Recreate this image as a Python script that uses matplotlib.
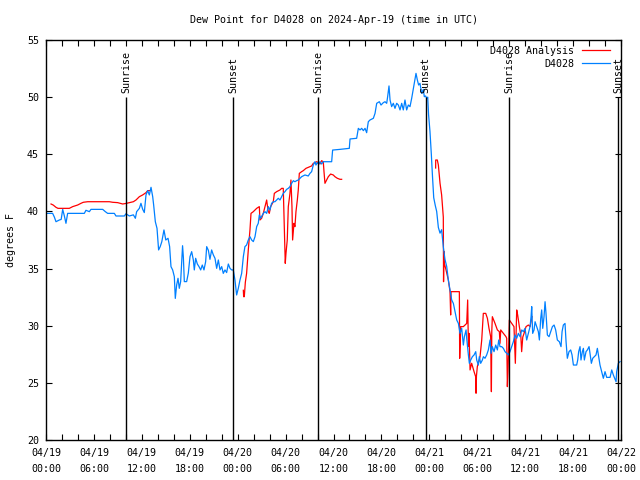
import numpy as np
import pandas as pd
import matplotlib
matplotlib.use("Agg")
import matplotlib.pyplot as plt
import matplotlib.dates as mdates

# hours since 2024-04-19 00:00 UTC and dew point (F)
obs_hours = [0.0, 0.83, 1.05, 1.25, 1.67, 1.9, 2.09, 2.3, 2.5, 2.71, 4.8, 5.0, 5.43, 5.63, 6.05, 7.1, 7.43, 7.72,
             8.56, 8.76, 9.81, 10.02, 10.43, 10.94, 11.19, 11.35, 11.69, 11.89, 12.1, 12.31, 12.52, 12.73, 12.94,
             13.15, 13.36, 13.48, 13.69, 13.9, 14.1, 14.3, 14.5, 14.77, 15.0, 15.28, 15.48, 15.65, 15.86, 16.07,
             16.19, 16.36, 16.53, 16.69, 16.86, 17.03, 17.1, 17.2, 17.32, 17.61, 17.82, 18.03, 18.24, 18.45, 18.57,
             18.74, 18.95, 19.16, 19.37, 19.57, 19.78, 19.99, 20.12, 20.33, 20.53, 20.74, 20.95, 21.16, 21.37,
             21.58, 21.79, 22.0, 22.2, 22.41, 22.62, 22.83, 23.04, 23.25, 23.45, 23.66, 23.87, 24.08, 24.29, 24.5,
             24.71, 24.91, 25.12, 25.33, 25.54, 25.75, 25.96, 26.17, 26.38, 26.58, 26.71, 26.88, 27.04, 27.21,
             27.42, 27.63, 27.84, 28.04, 28.25, 28.46, 28.67, 28.88, 29.09, 29.3, 29.51, 29.71, 29.92, 30.13,
             30.34, 30.55, 30.76, 30.97, 31.17, 31.38, 31.59, 31.8, 32.01, 32.43, 32.84, 33.05, 33.26, 33.47,
             33.68, 33.8, 33.97, 34.14, 34.31, 34.51, 34.72, 35.77, 35.89, 36.81, 37.98, 38.07, 38.9, 39.11,
             39.32, 39.53, 39.74, 39.95, 40.15, 40.36, 40.57, 40.99, 41.2, 41.41, 41.74, 41.95, 42.24, 42.45,
             42.66, 42.78, 42.95, 43.08, 43.28, 43.49, 43.7, 43.91, 44.12, 44.33, 44.54, 44.74, 44.95, 45.16,
             45.37, 45.58, 45.79, 46.0, 46.2, 46.33, 46.5, 46.66, 46.83, 47.04, 47.25, 47.37, 47.54, 47.67, 47.8,
             47.9, 48.08, 48.25, 48.4, 48.55, 48.75, 48.92, 49.13, 49.34, 49.54, 49.75, 49.96, 50.17, 50.38,
             50.59, 50.8, 51.01, 51.22, 51.43, 51.64, 51.84, 52.05, 52.26, 52.39, 52.6, 52.68, 52.89, 53.01,
             53.18, 53.39, 53.6, 53.81, 53.93, 54.14, 54.26, 54.43, 54.64, 54.77, 54.97, 55.18, 55.39, 55.6,
             55.73, 55.89, 56.1, 56.31, 56.52, 56.69, 56.85, 57.06, 57.27, 57.48, 57.69, 57.9, 58.1, 58.31,
             58.52, 58.73, 58.94, 59.15, 59.36, 59.57, 59.77, 59.98, 60.19, 60.4, 60.61, 60.74, 60.82, 60.94,
             61.11, 61.24, 61.44, 61.65, 61.78, 61.95, 62.07, 62.2, 62.36, 62.49, 62.61, 62.78, 62.99, 63.2,
             63.41, 63.62, 63.82, 64.03, 64.28, 64.49, 64.62, 64.78, 64.99, 65.12, 65.28, 65.49, 65.7, 65.87,
             66.04, 66.45, 66.58, 66.7, 66.87, 66.99, 67.16, 67.29, 67.41, 67.62, 67.79, 68.0, 68.12, 68.29,
             68.46, 68.66, 68.87, 69.04, 69.21, 69.37, 69.58, 69.79, 70.0, 70.21, 70.63, 70.84, 71.04, 71.25,
             71.38, 71.46, 71.67, 71.88]
obs_dewpt = [39.83, 39.83, 39.5, 39.1, 39.25, 39.3, 40.18, 39.6, 38.96, 39.83, 39.83, 40.1, 39.98, 40.18, 40.18,
             40.18, 39.98, 39.83, 39.83, 39.6, 39.6, 39.8, 39.6, 39.7, 39.4, 39.98, 40.27, 40.71, 40.2, 39.9,
             41.44, 41.82, 41.44, 42.11, 41.29, 40.56, 39.1, 38.52, 36.63, 36.92, 37.35, 38.38, 37.5, 37.65,
             36.92, 35.17, 34.88, 34.29, 32.39, 33.56, 34.15, 33.27, 33.86, 36.19, 37.0, 36.0, 33.86, 33.86, 34.6,
             36.04, 36.48, 35.75, 34.88, 35.9, 35.4, 35.17, 34.88, 35.31, 34.88, 35.6, 36.92, 36.6, 35.81, 36.63,
             36.2, 35.9, 35.02, 35.75, 34.88, 35.17, 34.58, 34.88, 34.65, 35.4, 35.02, 34.88, 34.88, 34.0, 32.69,
             33.27, 34.0, 34.58, 36.04, 36.92, 37.06, 37.5, 37.79, 37.5, 37.36, 37.79, 38.67, 38.96, 39.69, 39.4,
             39.6, 39.83, 39.98, 39.83, 40.42, 40.13, 40.71, 40.85, 40.85, 41.0, 41.15, 41.0, 41.29, 41.58, 41.73,
             41.93, 42.02, 42.17, 42.46, 42.69, 42.6, 42.69, 42.75, 42.9, 43.04, 43.19, 43.1, 43.33, 43.48, 44.06,
             44.35, 44.06, 44.27, 44.15, 44.35, 44.15, 44.35, 44.35, 45.37, 45.43, 45.52, 46.34, 46.4, 47.27,
             47.13, 47.27, 47.07, 47.27, 46.89, 47.85, 48.0, 48.15, 48.58, 49.46, 49.6, 49.31, 49.52, 49.6, 49.46,
             50.04, 50.98, 49.75, 49.17, 49.46, 49.02, 49.46, 49.31, 48.88, 49.46, 48.88, 49.75, 48.88, 49.31,
             49.17, 49.9, 50.77, 51.65, 52.08, 51.5, 51.06, 51.21, 50.33, 50.68, 50.04, 50.1, 49.9, 50.0, 48.5,
             47.0, 45.0, 43.0, 41.2, 40.5, 40.0, 38.6, 38.1, 38.4, 36.9, 35.8, 35.2, 34.0, 33.1, 32.25, 31.95,
             31.23, 30.5, 30.2, 29.33, 29.77, 28.31, 29.04, 29.63, 28.9, 27.44, 26.71, 27.0, 27.29, 27.44, 27.73,
             27.0, 26.56, 27.29, 26.71, 27.0, 27.29, 27.15, 27.44, 27.88, 28.75, 27.58, 28.17, 27.73, 28.31,
             27.88, 28.75, 28.17, 28.17, 28.02, 27.73, 27.58, 27.44, 27.73, 28.17, 28.6, 29.19, 28.9, 29.33,
             29.04, 29.63, 29.48, 29.77, 28.75, 29.33, 29.92, 30.8, 31.67, 29.33, 29.63, 30.35, 29.92, 29.48,
             28.75, 30.65, 31.38, 29.77, 30.79, 32.1, 31.08, 29.19, 29.04, 29.48, 29.92, 30.06, 29.63, 28.75,
             28.6, 28.17, 29.48, 30.06, 30.2, 28.6, 27.15, 27.73, 27.88, 27.44, 26.56, 26.56, 27.0, 27.73, 28.17,
             27.0, 27.73, 28.02, 27.0, 27.73, 27.88, 28.17, 27.58, 26.71, 27.15, 27.29, 27.44, 28.02, 27.29,
             26.56, 25.98, 25.4, 25.98, 25.48, 25.48, 26.13, 25.69, 25.31, 25.1, 25.98, 26.71, 26.86]

# analysis series (NaN = gap in the record)
ana_hours = [0.63, 0.9, 1.25, 1.5, 2.92, 3.34, 3.96, 4.38, 4.67, 5.22, 7.93, 8.35, 8.97, 9.6, 10.02, 10.43, 10.94,
             11.27, 11.69, 12.1, 12.52, 12.73, 13.02, 18.0,
             24.71, 24.75, 24.83, 24.96, 25.12, 25.33, 25.54, 25.67, 25.96, 26.38, 26.71, 26.79, 27.0, 27.21,
             27.42, 27.63, 27.71, 27.84, 27.96, 28.13, 28.46, 28.59, 28.88, 29.3, 29.51, 29.71, 29.84, 29.96,
             30.05, 30.21, 30.34, 30.55, 30.67, 30.8, 30.88, 31.05, 31.17, 31.3, 31.47, 31.59, 31.72, 32.01,
             32.22, 32.55, 32.84, 33.26, 33.47, 33.68, 33.89, 34.1, 34.31, 34.51, 34.72, 34.81, 34.93, 35.14,
             35.35, 35.64, 35.97, 36.18, 36.48, 36.81, 37.02, 42.0,
             48.79, 48.8, 49.0, 49.13, 49.34, 49.54, 49.75, 49.78, 49.83, 49.88, 50.09, 50.38, 50.59, 50.67,
             50.72, 51.76, 51.8, 51.93, 52.26, 52.68, 52.8, 52.89, 52.97, 53.1, 53.3, 53.6, 53.8, 53.85, 53.9,
             54.01, 54.35, 54.56, 54.76, 55.06, 55.27, 55.47, 55.68, 55.77, 55.82, 55.89, 56.22, 56.52, 56.77,
             56.85, 56.94, 57.27, 57.6, 57.69, 57.77, 57.85, 58.02, 58.31, 58.6, 58.77, 58.94, 59.06, 59.27,
             59.45, 59.56, 59.7, 59.86, 60.11, 60.4, 60.61, 60.73, 60.86]
ana_dewpt = [40.65, 40.56, 40.36, 40.27, 40.27, 40.42, 40.56, 40.71, 40.8, 40.85, 40.85, 40.8, 40.77, 40.65, 40.7,
             40.77, 40.85, 41.0, 41.29, 41.44, 41.64, 41.82, 41.82, np.nan,
             33.1, 32.54, 32.54, 33.8, 34.58, 36.63, 38.38, 39.83, 39.98, 40.27, 40.42, 39.25, 39.4, 39.83, 40.42,
             41.0, 40.56, 39.98, 39.83, 40.42, 40.85, 41.58, 41.73, 41.88, 42.02, 42.02, 38.67, 35.46, 36.33,
             37.5, 40.42, 41.58, 42.75, 40.42, 37.5, 38.96, 38.67, 39.98, 41.0, 41.88, 43.33, 43.48, 43.57, 43.77,
             43.86, 43.98, 44.21, 44.27, 44.35, 44.27, 44.15, 44.44, 44.35, 43.48, 42.46, 42.75, 43.04, 43.27,
             43.19, 43.04, 42.9, 42.81, 42.81, np.nan,
             43.8, 44.5, 44.5, 44.06, 42.46, 41.44, 39.5, 33.85, 36.5, 35.46, 34.88, 34.0, 32.98, 30.94, 32.98,
             32.98, 27.15, 29.92, 29.92, 30.2, 32.25, 28.2, 29.33, 26.13, 26.71, 25.98, 25.54, 24.09, 25.6, 26.42,
             27.29, 28.75, 31.08, 31.08, 30.65, 29.77, 29.04, 24.23, 29.5, 30.79, 30.21, 29.63, 29.48, 28.46,
             29.63, 29.33, 29.04, 28.9, 24.67, 26.0, 30.5, 30.21, 29.92, 26.71, 31.38, 30.94, 29.92, 29.2, 27.73,
             29.0, 29.33, 29.92, 30.06, 29.92, 30.36, 30.79]

sunrise_hours = [10.07, 34.1, 58.02]
sunset_hours = [23.47, 47.52, 71.67]

start = pd.Timestamp("2024-04-19 00:00")
to_time = lambda h: start + pd.to_timedelta(np.asarray(h, dtype=float), unit="h")

plt.rcParams['font.family'] = ['DejaVu Sans Mono']
fs = 7.2

fig = plt.figure(figsize=(6.4, 4.8), dpi=100)
ax = fig.add_axes([46 / 640, 40 / 480, 575 / 640, 400 / 480])

ax.plot(to_time(ana_hours), ana_dewpt, color='#ff0000', lw=0.9, label='D4028 Analysis')
ax.plot(to_time(obs_hours), obs_dewpt, color='#0080ff', lw=0.9, label='D4028')

for name, hrs in [('Sunrise', sunrise_hours), ('Sunset', sunset_hours)]:
    for t in to_time(hrs):
        ax.vlines(t, 20, 50, color='black', lw=1)
        ax.text(t, 50.4, name, rotation=90, ha='center', va='bottom', fontsize=fs, clip_on=False)

ax.set_xlim(start, start + pd.Timedelta(hours=72))
ax.set_ylim(20, 55)
ax.set_yticks(range(20, 56, 5))
ax.xaxis.set_major_locator(mdates.HourLocator(byhour=[0, 6, 12, 18]))
ax.xaxis.set_minor_locator(mdates.HourLocator(byhour=range(0, 24, 2)))
ax.xaxis.set_major_formatter(mdates.DateFormatter('%m/%d\n%H:%M'))
ax.tick_params(which='both', direction='in', top=True, right=True, length=4, width=0.8, labelsize=fs)
ax.tick_params(axis='y', pad=5)
ax.tick_params(axis='x', pad=6)
for lab in ax.get_xticklabels():
    lab.set_linespacing(1.75)
for s in ax.spines.values():
    s.set_linewidth(1)

ax.set_ylabel('degrees F', fontsize=fs, labelpad=8)
ax.set_title('Dew Point for D4028 on 2024-Apr-19 (time in UTC)', fontsize=fs, pad=12)
ax.legend(loc='upper right', bbox_to_anchor=(0.98, 0.985), frameon=False, markerfirst=False, fontsize=fs,
          handlelength=2.8, handletextpad=0.7, borderpad=0, borderaxespad=0, labelspacing=0.3)

fig.savefig('out.png', dpi=100)
